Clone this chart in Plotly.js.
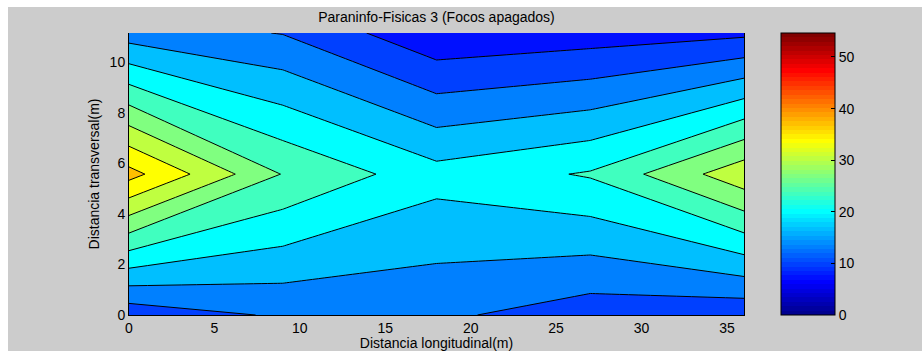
<!DOCTYPE html>
<html>
<head>
<meta charset="utf-8">
<script src="https://cdn.plot.ly/plotly-3.0.1.min.js"></script>
<style>
  html, body { margin: 0; padding: 0; background: #ffffff; }
  #chart { position: absolute; left: 8px; top: 7px; width: 914px; height: 344px; }
</style>
</head>
<body>
<div id="chart"></div>
<script>
// Measurement grid (metres)
const xPos = [0, 9, 18, 27, 36];      // longitudinal positions
const yPos = [0, 5.58, 11.17];        // transversal positions

// Measured values, one row per transversal position
const zRow0 = [11.16, 13.88, 14.09, 11.5, 10.8];
const zRow1 = [38.39, 26.83, 21.5, 23.94, 32.75];
const zRow2 = [15.13, 13.26, 7.28, 8.27, 9.29];

// Contour levels
const levelStart = 10;
const levelStep = 3.4;
const levelEnd = 37.2;

// Colour axis limits and tick values
const cMin = 0;
const cMax = 54.65;
const xTicks = [0, 5, 10, 15, 20, 25, 30, 35];
const yTicks = [0, 2, 4, 6, 8, 10];
const cTicks = [0, 10, 20, 30, 40, 50];

const zRows = [zRow0, zRow1, zRow2];

// 64-entry "jet" colour map, row i = 1..64
function jetRow(i) {
  const r = i <= 24 ? 0 : i <= 40 ? (i - 24) / 16 : i <= 56 ? 1 : (72 - i) / 16;
  const g = i <= 8 ? 0 : i <= 24 ? (i - 8) / 16 : i <= 40 ? 1 : i <= 55 ? (56 - i) / 16 : 0;
  const b = i <= 8 ? (i + 8) / 16 : i <= 24 ? 1 : i <= 39 ? (40 - i) / 16 : 0;
  return 'rgb(' + Math.round(r * 255) + ',' + Math.round(g * 255) + ',' + Math.round(b * 255) + ')';
}
function jetIndex(v) {
  return Math.min(64, Math.max(1, Math.floor((v - cMin) / (cMax - cMin) * 64) + 1));
}

// Stepped colour scale for the colour bar
const jetScale = [];
for (let i = 1; i <= 64; i++) {
  const c = jetRow(i);
  jetScale.push([(i - 1) / 64, c]);
  jetScale.push([i / 64, c]);
}

// Each filled band takes the colour of its lower level; the lowest band
// takes the colour of the minimum value.
const nLevels = Math.round((levelEnd - levelStart) / levelStep) + 1;
let zMin = Infinity;
zRows.forEach(r => r.forEach(v => { if (v < zMin) zMin = v; }));
const bandScale = [];
for (let k = 0; k <= nLevels; k++) {
  const v = k === 0 ? zMin : levelStart + (k - 1) * levelStep;
  bandScale.push([k / nLevels, jetRow(jetIndex(v))]);
}

const font = '"Liberation Sans", Arial, Helvetica, sans-serif';

// Plot-area placement inside the figure (px)
const mL = 121, mR = 178, mT = 26, mB = 36;
const figW = 914, figH = 344;
const plotW = figW - mL - mR;

const contourTrace = {
  type: 'contour',
  x: xPos,
  y: yPos,
  z: zRows,
  autocontour: false,
  contours: { start: levelStart, end: levelEnd, size: levelStep, coloring: 'fill', showlines: true },
  colorscale: bandScale,
  showscale: false,
  line: { color: '#000000', width: 1, smoothing: 0 },
  hoverinfo: 'skip'
};

// Colour bar for the full colour axis
const barTrace = {
  type: 'scatter',
  mode: 'markers',
  x: [null, null],
  y: [null, null],
  showlegend: false,
  hoverinfo: 'skip',
  marker: {
    color: [cMin, cMax],
    cmin: cMin,
    cmax: cMax,
    colorscale: jetScale,
    showscale: true,
    colorbar: {
      x: (772.7 - mL) / plotW,
      xanchor: 'left',
      xpad: 0,
      ypad: 0,
      y: 0.5,
      yanchor: 'middle',
      len: 1,
      lenmode: 'fraction',
      thickness: 54,
      thicknessmode: 'pixels',
      outlinecolor: '#000000',
      outlinewidth: 1,
      tickvals: cTicks,
      ticks: 'inside',
      ticklen: 4,
      tickcolor: '#000000',
      tickfont: { family: font, size: 14, color: '#000000' }
    }
  }
};

const layout = {
  width: figW,
  height: figH,
  paper_bgcolor: '#cccccc',
  plot_bgcolor: '#cccccc',
  margin: { l: mL, r: mR, t: mT, b: mB, pad: 0 },
  showlegend: false,
  font: { family: font, size: 14, color: '#000000' },
  title: {
    text: 'Paraninfo-Fisicas 3 (Focos apagados)',
    font: { family: font, size: 14, color: '#000000' },
    xref: 'paper', x: 0.5, xanchor: 'center',
    yref: 'container', y: 1 - 9.7 / figH, yanchor: 'middle'
  },
  xaxis: {
    range: [xPos[0], xPos[xPos.length - 1]],
    tickvals: xTicks,
    ticks: '',
    showgrid: false,
    zeroline: false,
    showline: true,
    linecolor: '#000000',
    linewidth: 1,
    mirror: false,
    tickfont: { family: font, size: 14, color: '#000000' },
    title: { text: 'Distancia longitudinal(m)', font: { family: font, size: 14, color: '#000000' }, standoff: 4 }
  },
  yaxis: {
    range: [yPos[0], yPos[yPos.length - 1]],
    tickvals: yTicks,
    ticks: '',
    showgrid: false,
    zeroline: false,
    showline: true,
    linecolor: '#000000',
    linewidth: 1,
    mirror: true,
    tickfont: { family: font, size: 14, color: '#000000' },
    title: { text: 'Distancia transversal(m)', font: { family: font, size: 14, color: '#000000' }, standoff: 6 }
  }
};

Plotly.newPlot('chart', [contourTrace, barTrace], layout, { displayModeBar: false, staticPlot: true });
</script>
</body>
</html>
